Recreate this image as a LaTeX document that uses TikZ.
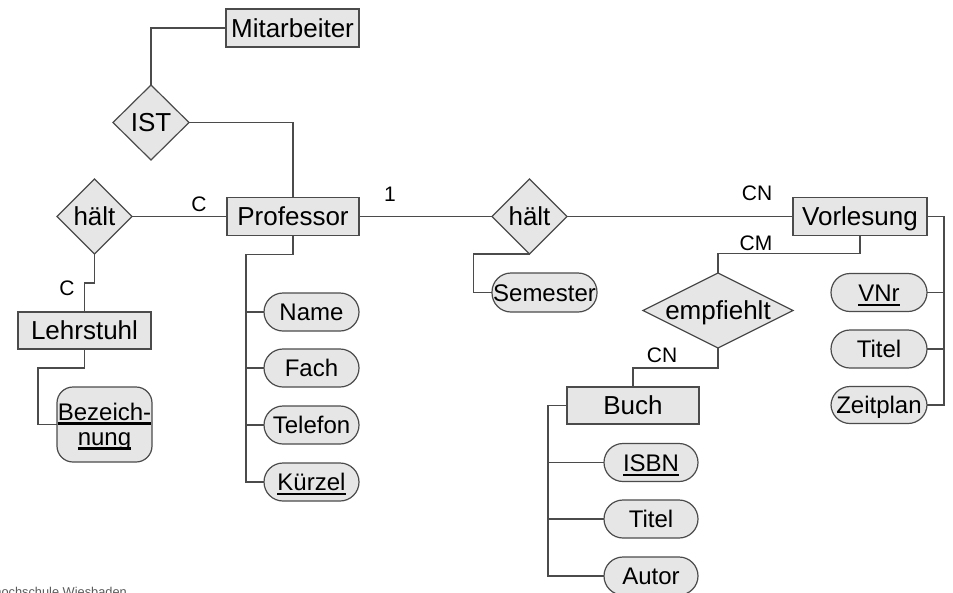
\documentclass[tikz,border=0pt]{standalone}
\usepackage{fontspec}
\setmainfont{Liberation Sans}
\usetikzlibrary{shapes.geometric,calc}

\definecolor{erfill}{RGB}{230,230,230}
\definecolor{erline}{RGB}{75,75,75}

% underlined key attribute with a rule of its own
\newcommand\keyattr[1]{\setbox0\hbox{#1}\rlap{\rule[-0.19em]{\wd0}{0.09em}}\box0}

\tikzset{
  erbase/.style={inner sep=0pt, outer sep=0pt, text depth=0pt,
                 draw=erline, fill=erfill, line width=1.2pt},
  entity/.style={erbase, rectangle, font=\fontsize{26}{30}\selectfont, text height=18.6pt,
                 minimum width=132pt, minimum height=38pt},
  rel/.style={erbase, diamond, font=\fontsize{26}{30}\selectfont, text height=18.6pt,
              minimum width=75pt, minimum height=75pt},
  attr/.style={erbase, rectangle, rounded corners=19pt, font=\fontsize{24}{28}\selectfont,
               text height=17.2pt, minimum width=95pt, minimum height=38pt},
  card/.style={inner sep=0pt, text height=15pt, text depth=0pt,
               font=\fontsize{21}{25}\selectfont},
  conn/.style={draw=erline, line width=1.2pt},
}

\begin{document}
\begin{tikzpicture}[x=1pt, y=-1pt]
\useasboundingbox (0,0) rectangle (953,592);
\clip (0,0) rectangle (953,592);

% entities
\node[entity, minimum width=133pt] (mit) at (292.5,28) {Mitarbeiter};
\node[entity] (prof) at (293,216.5) {Professor};
\node[entity, minimum width=133pt, minimum height=37pt] (lehr) at (84.5,330.5) {Lehrstuhl};
\node[entity, minimum width=134pt] (vorl) at (860,216.5) {Vorlesung};
\node[entity, minimum height=37pt] (buch) at (633,405.5) {Buch};

% relationships
\node[rel, minimum width=76pt] (ist) at (151,122.5) {\makebox[0pt]{IST}};
\node[rel] (h1) at (94.5,216.5) {\makebox[0pt]{hält}};
\node[rel] (h2) at (529.5,216.5) {\makebox[0pt]{hält}};
\node[rel, minimum width=150pt] (emp) at (718,310.5) {\makebox[0pt]{empfiehlt}};

% attributes of Professor
\node[attr] (name) at (311.5,312) {Name};
\node[attr] (fach) at (311.5,368) {Fach};
\node[attr] (tel)  at (311.5,425) {Telefon};
\node[attr] (kurz) at (311.5,482) {\keyattr{Kürzel}};

% attribute of Lehrstuhl (two lines, the node centre sits on the baseline)
\node[attr, minimum width=95pt, minimum height=75pt, rounded corners=16pt,
      text height=0pt, text depth=0pt] (bez) at (104.5,424.5)
  {\makebox[0pt]{\raisebox{4.5pt}{\keyattr{Bezeich-}}}\makebox[0pt]{\raisebox{-20.5pt}{\keyattr{nung}}}};

% attribute of hält
\node[attr, minimum width=105pt, minimum height=39pt] (sem) at (544.5,292.5) {Semester};

% attributes of Vorlesung
\node[attr, minimum width=96pt] (vnr)  at (879,292.5) {\keyattr{VNr}};
\node[attr, minimum width=96pt] (vtit) at (879,349) {Titel};
\node[attr, minimum width=96pt, minimum height=37pt] (zeit) at (879,405) {Zeitplan};

% attributes of Buch
\node[attr, minimum width=94pt] (isbn) at (651,462.5) {\keyattr{ISBN}};
\node[attr, minimum width=94pt] (btit) at (651,519) {Titel};
\node[attr, minimum width=94pt] (aut)  at (651,576) {Autor};

% connectors
\draw[conn] (mit.west) -| (ist.north);
\draw[conn] (ist.east) -| (prof.north);
\draw[conn] (h1.east) -- (prof.west);
\draw[conn] (h1.south) -- ++(0,29) -| (lehr.north);
\draw[conn] (lehr.south) -- ++(0,19) -| ($(bez.west)+(-19,0)$) -- (bez.west);
\draw[conn] (prof.east) -- (h2.west);
\draw[conn] (h2.east) -- (vorl.west);
\draw[conn] (h2.south) -- ++(-56,0) |- (sem.west);
\draw[conn] (vorl.south) -- ++(0,18) -| (emp.north);
\draw[conn] (emp.south) -- ++(0,20) -| (buch.north);

\draw[conn] (prof.south) -- ++(0,19) -| ($(kurz.west)+(-18,0)$) -- (kurz.west);
\foreach \a in {name,fach,tel} \draw[conn] (\a.west) -- ++(-18,0);

\draw[conn] (vorl.east) -- ++(17,0) |- (zeit.east);
\foreach \a in {vnr,vtit} \draw[conn] (\a.east) -- ++(17,0);

\draw[conn] (buch.west) -- ++(-19,0) |- (aut.west);
\foreach \a in {isbn,btit} \draw[conn] (\a.west) -- ++(-56,0);

% cardinalities
\node[card] (c1) at (199,204) {C};
\node[card] (c2) at (67,288) {C};
\node[card] (c3) at (390,194) {1};
\node[card] (c4) at (757,193) {CN};
\node[card] (c5) at (756,243) {CM};
\node[card] (c6) at (662,355) {CN};

% footer
\node[anchor=base east, inner sep=0pt, text=black!65, font=\fontsize{12.8}{14}\selectfont]
  (foot) at (127,596) {Fachhochschule Wiesbaden};
\end{tikzpicture}
\end{document}
